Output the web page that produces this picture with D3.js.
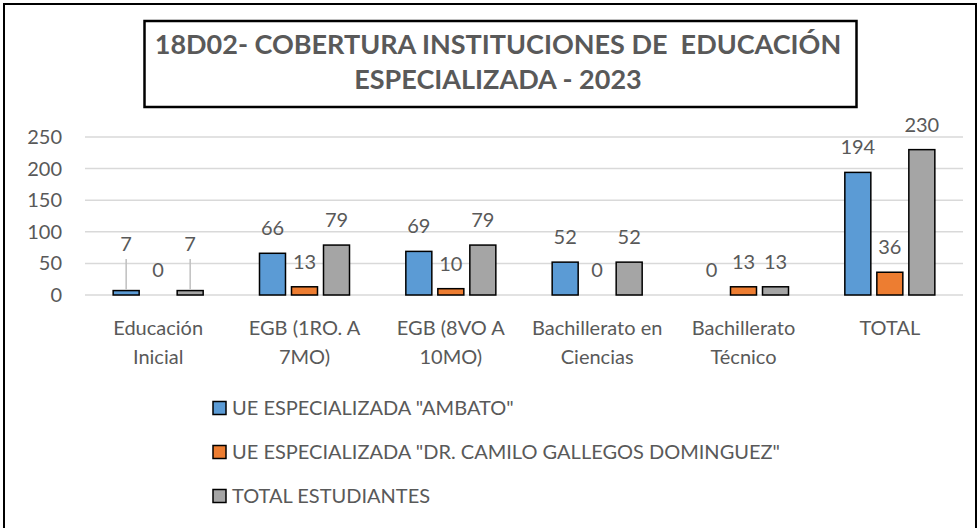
<!DOCTYPE html>
<html>
    <head>
        <meta charset="utf-8">
        <title>18D02 - Cobertura</title>
        <script type="text/javascript" src="https://cdn.jsdelivr.net/npm/d3@7"></script>
        <style>
            body { margin: 0; background: #fff; }
            svg { display: block; font-family: Lato, "Open Sans", sans-serif; }
            .titulo { white-space: pre; }
        </style>
    </head>
    <body>
        <script>
            // Datos del grafico
            var categorias = ["Educación Inicial", "EGB (1RO. A 7MO)", "EGB (8VO A 10MO)", "Bachillerato en Ciencias", "Bachillerato Técnico", "TOTAL"];
            var series = ["UE ESPECIALIZADA \"AMBATO\"", "UE ESPECIALIZADA \"DR. CAMILO GALLEGOS DOMINGUEZ\"", "TOTAL ESTUDIANTES"];
            var ambato = [7, 66, 69, 52, 0, 194];
            var gallegos = [0, 13, 10, 0, 13, 36];
            var totalEst = [7, 79, 79, 52, 13, 230];
            var yTicks = [0, 50, 100, 150, 200, 250];
            var titulo = ["18D02- COBERTURA INSTITUCIONES DE  EDUCACIÓN", "ESPECIALIZADA - 2023"];

            var colores = ["#5b9bd5", "#ed7d31", "#a5a5a5"];
            var valores = [ambato, gallegos, totalEst];
            var texto = "#595959";

            var W = 979, H = 528;
            var svg = d3.select("body").append("svg")
                .attr("width", W)
                .attr("height", H);

            // marco exterior
            svg.append("rect")
                .attr("x", 4).attr("y", 4)
                .attr("width", 972).attr("height", 600)
                .attr("fill", "none")
                .attr("stroke", "#000")
                .attr("stroke-width", 2);

            // cuadro del titulo
            svg.append("rect")
                .attr("x", 144.5).attr("y", 21)
                .attr("width", 712).attr("height", 86)
                .attr("fill", "#fff")
                .attr("stroke", "#000")
                .attr("stroke-width", 2.5);

            svg.selectAll("text.titulo")
                .data(titulo)
                .enter()
                .append("text")
                .attr("class", "titulo")
                .attr("x", 498)
                .attr("y", function(d, i) { return 54 + i * 35; })
                .attr("text-anchor", "middle")
                .attr("font-size", 27)
                .attr("font-weight", "bold")
                .attr("fill", texto)
                .text(function(d) { return d; });

            // escalas
            var x0 = d3.scaleBand().domain(categorias).range([85, 963]);
            var x1 = d3.scaleBand().domain(d3.range(series.length))
                .range([0, x0.bandwidth()])
                .paddingInner(0.1875)
                .paddingOuter(0.88);
            var y = d3.scaleLinear().domain([0, 250]).range([295, 137]);

            // lineas de division
            svg.append("g")
                .selectAll("line")
                .data(yTicks)
                .enter()
                .append("line")
                .attr("x1", 85).attr("x2", 963)
                .attr("y1", function(d) { return y(d); })
                .attr("y2", function(d) { return y(d); })
                .attr("stroke", "#d9d9d9")
                .attr("stroke-width", 1.5);

            // eje vertical
            var eje = svg.append("g")
                .attr("transform", "translate(72,0)")
                .call(d3.axisLeft(y).tickValues(yTicks).tickSize(0).tickPadding(10));
            eje.select(".domain").remove();
            eje.selectAll("text")
                .attr("font-size", 20)
                .attr("font-family", "Lato, sans-serif")
                .attr("fill", texto);

            // barras
            var filas = [];
            categorias.forEach(function(c, i) {
                valores.forEach(function(v, s) {
                    filas.push({ cat: c, s: s, v: v[i] });
                });
            });

            svg.append("g")
                .selectAll("rect")
                .data(filas)
                .enter()
                .append("rect")
                .attr("x", function(d) { return x0(d.cat) + x1(d.s); })
                .attr("y", function(d) { return y(d.v); })
                .attr("width", x1.bandwidth())
                .attr("height", function(d) { return y(0) - y(d.v); })
                .attr("fill", function(d) { return colores[d.s]; })
                .attr("stroke", "#000")
                .attr("stroke-width", function(d) { return d.v > 0 ? 1.5 : 0; });

            // etiquetas: las de Educación Inicial (7) estan levantadas con linea guia
            var levantada = function(d) { return d.cat === categorias[0] && d.v > 0; };

            svg.append("g")
                .selectAll("line")
                .data(filas.filter(levantada))
                .enter()
                .append("line")
                .attr("x1", function(d) { return x0(d.cat) + x1(d.s) + x1.bandwidth() / 2; })
                .attr("x2", function(d) { return x0(d.cat) + x1(d.s) + x1.bandwidth() / 2; })
                .attr("y1", 259)
                .attr("y2", function(d) { return y(d.v) - 1; })
                .attr("stroke", "#bfbfbf")
                .attr("stroke-width", 1.5);

            svg.append("g")
                .selectAll("text")
                .data(filas)
                .enter()
                .append("text")
                .attr("x", function(d) { return x0(d.cat) + x1(d.s) + x1.bandwidth() / 2; })
                .attr("y", function(d) { return levantada(d) ? 244 : y(d.v) - 25; })
                .attr("dy", "0.35em")
                .attr("text-anchor", "middle")
                .attr("font-size", 20)
                .attr("fill", texto)
                .text(function(d) { return d.v; });

            // etiquetas de categoria (en dos lineas)
            var cats = svg.append("g")
                .selectAll("text")
                .data(categorias)
                .enter()
                .append("text")
                .attr("x", function(d) { return x0(d) + x0.bandwidth() / 2; })
                .attr("y", 328)
                .attr("text-anchor", "middle")
                .attr("font-size", 20)
                .attr("fill", texto);

            cats.each(function(d) {
                var t = d3.select(this);
                var palabras = d.split(" ");
                var linea = [];
                var ts = t.append("tspan").attr("x", t.attr("x")).attr("dy", "0.35em");
                palabras.forEach(function(p) {
                    linea.push(p);
                    ts.text(linea.join(" "));
                    if (ts.node().getComputedTextLength() > 142 && linea.length > 1) {
                        linea.pop();
                        ts.text(linea.join(" "));
                        linea = [p];
                        ts = t.append("tspan").attr("x", t.attr("x")).attr("dy", 29).text(p);
                    }
                });
            });

            // leyenda
            var ley = svg.append("g")
                .selectAll("g")
                .data(series)
                .enter()
                .append("g")
                .attr("transform", function(d, i) { return "translate(213," + (408 + i * 44) + ")"; });

            ley.append("rect")
                .attr("x", 0).attr("y", -6.5)
                .attr("width", 13).attr("height", 13)
                .attr("fill", function(d, i) { return colores[i]; })
                .attr("stroke", "#000")
                .attr("stroke-width", 1.5);

            ley.append("text")
                .attr("x", 19)
                .attr("dy", "0.35em")
                .attr("font-size", 20)
                .attr("fill", texto)
                .text(function(d) { return d; });
        </script>
    </body>
</html>
